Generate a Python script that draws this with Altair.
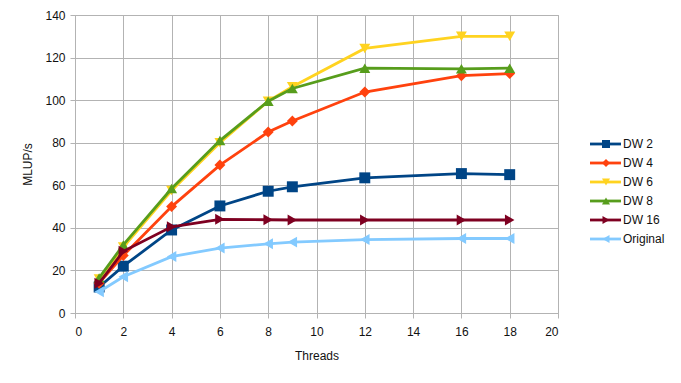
import altair as alt
import pandas as pd

threads = [1, 2, 4, 6, 8, 9, 12, 16, 18]
series_names = ["DW 2", "DW 4", "DW 6", "DW 8", "DW 16", "Original"]
dw2 = [12.2, 22, 39, 50.3, 57.2, 59.3, 63.5, 65.5, 65]
dw4 = [14, 27, 50, 69.5, 85, 90.2, 103.8, 111.5, 112.5]
dw6 = [16, 31, 57.5, 80, 99.5, 106.3, 124.3, 130, 130]
dw8 = [16.5, 32, 58.5, 81, 99.5, 105.5, 115, 114.7, 115]
dw16 = [14, 29, 40.5, 44, 43.8, 43.7, 43.7, 43.7, 43.7]
orig = [10, 17, 26.5, 30.5, 32.5, 33.3, 34.5, 35, 35]
colors = ["#004586", "#ff420e", "#ffd320", "#579d1c", "#7e0021", "#83caff"]
marker_shapes = ["square", "diamond", "triangle-down", "triangle-up", "triangle-right", "triangle-left"]

rows = []
for name, vals in zip(series_names, [dw2, dw4, dw6, dw8, dw16, orig]):
    for t, v in zip(threads, vals):
        rows.append({"Threads": t, "MLUP/s": v, "series": name})
df = pd.DataFrame(rows)
legend_df = pd.DataFrame({"series": series_names})

font = "Liberation Sans"
color_scale = alt.Scale(domain=series_names, range=colors)
shape_scale = alt.Scale(domain=series_names, range=marker_shapes)

x = alt.X("Threads:Q", scale=alt.Scale(domain=[0, 20], nice=False),
          axis=alt.Axis(values=list(range(0, 21, 2)), title="Threads"))
y = alt.Y("MLUP/s:Q", scale=alt.Scale(domain=[0, 140], nice=False),
          axis=alt.Axis(values=list(range(0, 141, 20)), title="MLUP/s"))

base = alt.Chart(df)
col = alt.Color("series:N", scale=color_scale, legend=None)

layers = []
for name, shp in zip(series_names, marker_shapes):
    sub = base.transform_filter(alt.datum.series == name)
    layers.append(sub.mark_line(strokeWidth=2.8).encode(x=x, y=y, color=col))
    layers.append(sub.mark_point(filled=True, size=120, opacity=1, shape=shp).encode(x=x, y=y, color=col))
plot = alt.layer(*layers)

# legend (line + marker + label per series)
ly = alt.Y("series:N", scale=alt.Scale(domain=series_names, type="point", range=[129, 224], padding=0), axis=None)
lbase = alt.Chart(legend_df)
leg_line = lbase.mark_rule(strokeWidth=2.8).encode(
    x=alt.value(515), x2=alt.value(546), y=ly, color=col)
leg_pt = lbase.mark_point(filled=True, size=65, opacity=1).encode(
    x=alt.value(531), y=ly, color=col,
    shape=alt.Shape("series:N", scale=shape_scale, legend=None))
leg_txt = lbase.mark_text(align="left", baseline="middle", font=font, fontSize=12, color="#111111").encode(
    x=alt.value(548), y=ly, text="series:N")
legend = alt.layer(leg_line, leg_pt, leg_txt)

chart = alt.layer(plot, legend).resolve_scale(y="independent").properties(
    width=483, height=298,
    autosize=alt.AutoSizeParams(type="none"),
    padding={"left": 67, "top": 7, "right": 115, "bottom": 60},
).configure_view(
    stroke="#b3b3b3", strokeWidth=1
).configure_axis(
    labelFont=font, labelFontSize=12, labelColor="#111111",
    titleFont=font, titleFontSize=12, titleColor="#111111", titleFontWeight="normal",
    gridColor="#b3b3b3", gridWidth=1, domainColor="#b3b3b3", tickColor="#b3b3b3",
    tickSize=5, labelPadding=8,
).configure_axisX(
    titlePadding=13,
).configure_axisY(
    titlePadding=10, domain=False, labelPadding=5,
)

chart.save("out.html", embed_options={"renderer": "svg", "actions": False})
